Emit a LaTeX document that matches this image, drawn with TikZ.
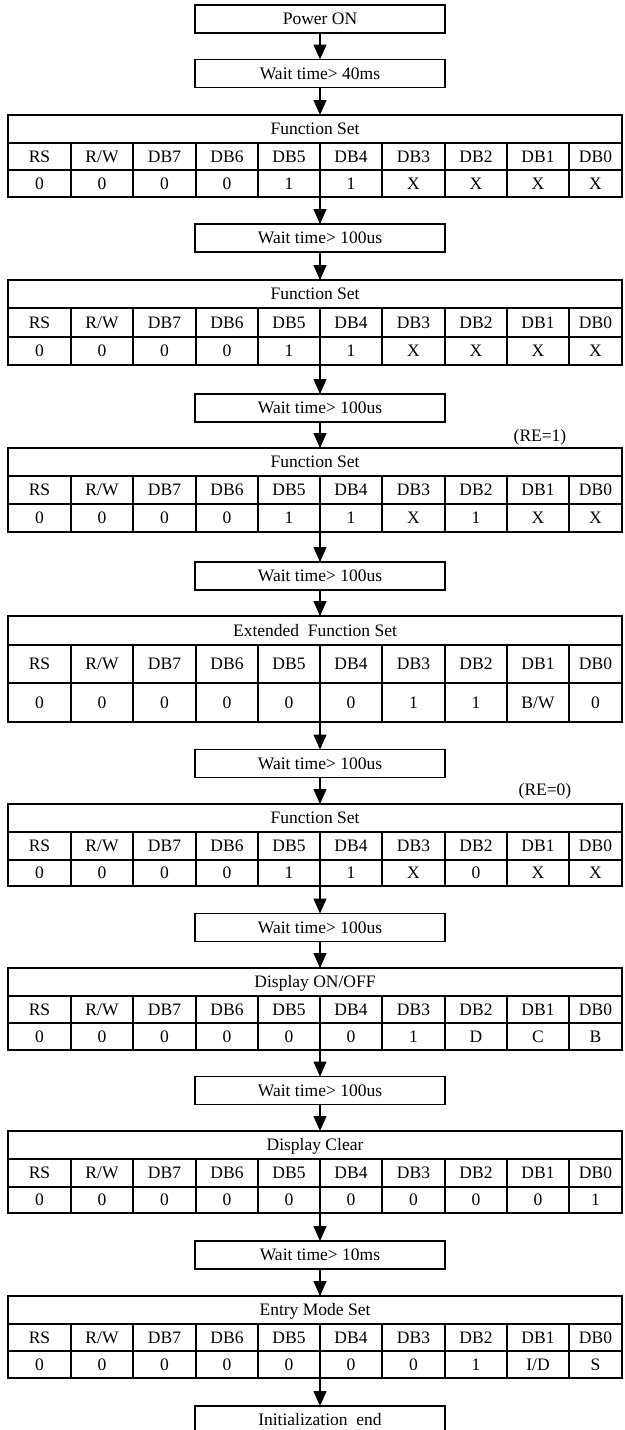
\documentclass[tikz,border=0pt]{standalone}
\usepackage{fontspec}
\setmainfont{Liberation Serif}
\usetikzlibrary{arrows.meta}
\tikzset{
  txt/.style={font=\fontsize{17.5}{20}\selectfont, inner sep=0pt, text height=11.5pt, text depth=0.5pt},
  bx/.style={draw, line width=1.8pt, minimum width=250pt, minimum height=28pt, inner sep=0pt, outer sep=0pt, txt},
  tb/.style={draw, line width=1.8pt, minimum width=614pt, inner sep=0pt, outer sep=0pt},
  gridline/.style={line width=1.8pt},
  arr/.style={line width=1.2pt, -{Triangle[length=15pt,width=13pt]}},
}
\newcommand{\regtab}[7]{%
  \node[tb, minimum height={#5-#2}] (#1) at (315,{(#2+#5)/2}) {};
  \draw[gridline] (8,#3) -- (622,#3) (8,#4) -- (622,#4);
  \foreach \xx in {71,133,196,258,320,382,445,507,569} {\draw[gridline] (\xx,#3) -- (\xx,#5);}
  \node[txt] at (315,{(#2+#3)/2}) {#6};
  \foreach \lab [count=\i] in {RS,R/W,DB7,DB6,DB5,DB4,DB3,DB2,DB1,DB0} {
    \pgfmathsetmacro\cx{{39.5,102,164.5,227,289,351,413.5,476,538,595.5}[\i-1]}
    \node[txt] at (\cx,{(#3+#4)/2}) {\lab};
  }
  \foreach \val [count=\i] in {#7} {
    \pgfmathsetmacro\cx{{39.5,102,164.5,227,289,351,413.5,476,538,595.5}[\i-1]}
    \node[txt] at (\cx,{(#4+#5)/2}) {\val};
  }
}
\begin{document}
\begin{tikzpicture}[x=1pt,y=-1pt]
\useasboundingbox (0,0) rectangle (624,1430);
\node[bx] (p) at (320,19) {Power ON};
\node[bx] (w1) at (320,73.5) {Wait time> 40ms};
\regtab{t1}{115}{143}{170}{197}{Function Set}{0,0,0,0,1,1,X,X,X,X}
\node[bx] (w2) at (320,238) {Wait time> 100us};
\regtab{t2}{280}{308}{337}{365}{Function Set}{0,0,0,0,1,1,X,X,X,X}
\node[bx] (w3) at (320,408) {Wait time> 100us};
\node[txt] (re1) at (540,436) {(RE=1)};
\regtab{t3}{448}{476}{504}{532}{Function Set}{0,0,0,0,1,1,X,1,X,X}
\node[bx] (w4) at (320,576) {Wait time> 100us};
\regtab{t4}{616}{645}{683}{722}{Extended\ \ Function Set}{0,0,0,0,0,0,1,1,B/W,0}
\node[bx] (w5) at (320,763.5) {Wait time> 100us};
\node[txt] (re0) at (545,790) {(RE=0)};
\regtab{t5}{804}{832}{860}{886}{Function Set}{0,0,0,0,1,1,X,0,X,X}
\node[bx] (w6) at (320,927.5) {Wait time> 100us};
\regtab{t6}{968}{996}{1023}{1050}{Display ON/OFF}{0,0,0,0,0,0,1,D,C,B}
\node[bx] (w7) at (320,1090.5) {Wait time> 100us};
\regtab{t7}{1131}{1159}{1187}{1213}{Display Clear}{0,0,0,0,0,0,0,0,0,1}
\node[bx] (w8) at (320,1255) {Wait time> 10ms};
\regtab{t8}{1296}{1324}{1351}{1378}{Entry Mode Set}{0,0,0,0,0,0,0,1,I/D,S}
\node[bx] (e) at (320,1420) {Initialization\ \ end};
\draw[arr] (p.south) -- (w1.north);
\draw[arr] (w1.south) -- (w1.south |- t1.north);
\draw[arr] (w2.north |- t1.south) -- (w2.north);
\draw[arr] (w2.south) -- (w2.south |- t2.north);
\draw[arr] (w3.north |- t2.south) -- (w3.north);
\draw[arr] (w3.south) -- (w3.south |- t3.north);
\draw[arr] (w4.north |- t3.south) -- (w4.north);
\draw[arr] (w4.south) -- (w4.south |- t4.north);
\draw[arr] (w5.north |- t4.south) -- (w5.north);
\draw[arr] (w5.south) -- (w5.south |- t5.north);
\draw[arr] (w6.north |- t5.south) -- (w6.north);
\draw[arr] (w6.south) -- (w6.south |- t6.north);
\draw[arr] (w7.north |- t6.south) -- (w7.north);
\draw[arr] (w7.south) -- (w7.south |- t7.north);
\draw[arr] (w8.north |- t7.south) -- (w8.north);
\draw[arr] (w8.south) -- (w8.south |- t8.north);
\draw[arr] (e.north |- t8.south) -- (e.north);
\end{tikzpicture}
\end{document}
